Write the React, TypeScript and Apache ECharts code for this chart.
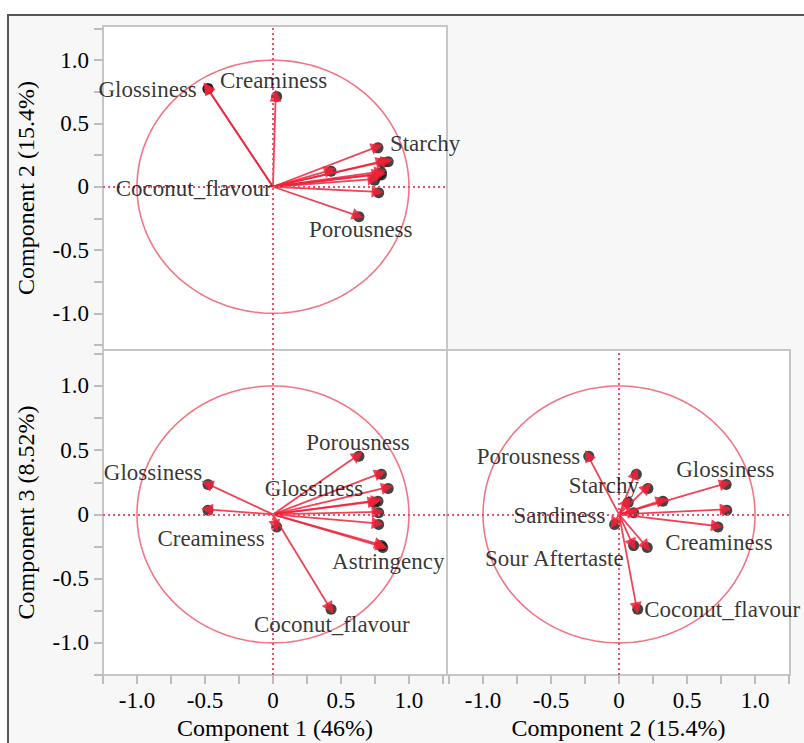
import React, { useEffect, useRef } from 'react';
import * as echarts from 'echarts';

// Loadings of the 13 sensory attributes on the first three components
const variables = [
  'Porousness', 'Attribute 2', 'Attribute 3', 'Glossiness', 'Starchy', 'Attribute 6',
  'Attribute 7', 'Attribute 8', 'Sandiness', 'Creaminess', 'Sour Aftertaste', 'Astringency', 'Coconut_flavour',
];
const comp1 = [0.625, 0.79, 0.84, -0.485, 0.765, 0.74, -0.485, 0.77, 0.77, 0.02, 0.79, 0.8, 0.42];
const comp2 = [-0.23, 0.12, 0.205, 0.78, 0.315, 0.06, 0.785, 0.1, -0.04, 0.72, 0.1, 0.2, 0.13];
const comp3 = [0.46, 0.32, 0.21, 0.24, 0.11, 0.1, 0.04, 0.02, -0.07, -0.09, -0.235, -0.25, -0.73];

const tickValues = [-1.25, -1, -0.75, -0.5, -0.25, 0, 0.25, 0.5, 0.75, 1, 1.25];
const labelValues = [-1, -0.5, 0, 0.5, 1];

const title1 = 'Component 1 (46%)';
const title2 = 'Component 2 (15.4%)';
const title3 = 'Component 3 (8.52%)';

// label text, x, y, alignment (as placed in the original figure)
const labels12: [string, number, number, string][] = [
  ['Glossiness', -0.56, 0.77, 'right'],
  ['Creaminess', -0.39, 0.84, 'left'],
  ['Starchy', 0.86, 0.345, 'left'],
  ['Coconut_flavour', -0.01, -0.01, 'right'],
  ['Porousness', 0.265, -0.335, 'left'],
];
const labels13: [string, number, number, string][] = [
  ['Porousness', 0.245, 0.56, 'left'],
  ['Glossiness', -0.52, 0.33, 'right'],
  ['Glossiness', -0.06, 0.2, 'left'],
  ['Creaminess', -0.85, -0.19, 'left'],
  ['Astringency', 0.435, -0.37, 'left'],
  ['Coconut_flavour', -0.14, -0.86, 'left'],
];
const labels23: [string, number, number, string][] = [
  ['Porousness', -0.285, 0.45, 'right'],
  ['Glossiness', 0.42, 0.35, 'left'],
  ['Starchy', -0.37, 0.225, 'left'],
  ['Sandiness', -0.1, -0.01, 'right'],
  ['Creaminess', 0.34, -0.22, 'left'],
  ['Sour Aftertaste', -0.985, -0.34, 'left'],
  ['Coconut_flavour', 0.185, -0.74, 'left'],
];

const FONT = '"Liberation Serif", "Times New Roman", serif';

export default function App() {
  const ref = useRef<HTMLDivElement>(null);
  useEffect(() => {
    document.body.style.margin = '0';
    const chart = echarts.init(ref.current!, null, { renderer: 'svg' });

    const circle: number[][] = [];
    for (let i = 0; i <= 180; i++) {
      const a = (i / 180) * Math.PI * 2;
      circle.push([Math.cos(a), Math.sin(a)]);
    }

    const panels = [
      { xs: comp1, ys: comp2, labels: labels12 },
      { xs: comp1, ys: comp3, labels: labels13 },
      { xs: comp2, ys: comp3, labels: labels23 },
    ];

    const fmt = (v: number) => (v === 0 ? '0' : v.toFixed(1));

    const mkAxis = (gridIndex: number, min: number, max: number, showLabels: boolean, name: string, nameGap: number) => ({
      type: 'value',
      gridIndex,
      min,
      max,
      name,
      nameLocation: 'middle',
      nameGap,
      nameTextStyle: { fontFamily: FONT, fontSize: 24, color: '#000' },
      axisLine: { show: false, onZero: false },
      axisTick: {
        show: showLabels,
        length: 9,
        customValues: tickValues,
        lineStyle: { color: '#bdbdbd', width: 2 },
      },
      axisLabel: {
        show: showLabels,
        customValues: labelValues,
        formatter: fmt,
        margin: 14,
        fontFamily: FONT,
        fontSize: 23,
        color: '#000',
      },
      splitLine: { show: false },
    });

    const series: any[] = [];
    panels.forEach((p, i) => {
      const pts = p.xs.map((x, k) => ({ name: variables[k], value: [x, p.ys[k]] }));
      series.push({
        type: 'line',
        xAxisIndex: i,
        yAxisIndex: i,
        data: circle,
        showSymbol: false,
        symbol: 'none',
        silent: true,
        lineStyle: { color: '#f27685', width: 1.6 },
        z: 1,
        markLine: {
          silent: true,
          symbol: 'none',
          label: { show: false },
          lineStyle: { color: '#f0506a', type: [2, 3], width: 2 },
          data: [{ xAxis: 0 }, { yAxis: 0 }],
        },
      });
      series.push({
        type: 'scatter',
        xAxisIndex: i,
        yAxisIndex: i,
        data: pts,
        symbol: 'circle',
        symbolSize: 11,
        symbolOffset: [1, 1],
        itemStyle: { color: '#151515' },
        silent: true,
        z: 3,
      });
      series.push({
        type: 'lines',
        coordinateSystem: 'cartesian2d',
        xAxisIndex: i,
        yAxisIndex: i,
        data: pts.map((d) => ({ coords: [[0, 0], d.value] })),
        symbol: ['none', 'triangle'],
        symbolSize: [0, 12],
        lineStyle: { color: '#ee2238', width: 1.8, opacity: 0.85 },
        silent: true,
        z: 4,
      });
      series.push({
        type: 'scatter',
        xAxisIndex: i,
        yAxisIndex: i,
        data: p.labels.map(([t, x, y, a]) => ({ name: t, value: [x, y], label: { align: a } })),
        symbolSize: 1,
        itemStyle: { color: 'rgba(0,0,0,0)' },
        silent: true,
        z: 5,
        label: {
          show: true,
          position: 'inside',
          formatter: '{b}',
          verticalAlign: 'middle',
          fontFamily: FONT,
          fontSize: 23,
          color: '#000',
        },
      });
    });

    const gridBase = {
      show: true,
      backgroundColor: '#ffffff',
      borderColor: '#c6c6c6',
      borderWidth: 2,
      outerBoundsMode: 'none',
      containLabel: false,
    };

    chart.setOption({
      animation: false,
      backgroundColor: '#ffffff',
      graphic: [
        {
          type: 'rect',
          z: -100,
          silent: true,
          shape: { x: 8, y: 15, width: 800, height: 740 },
          style: { fill: '#f7f7f7', stroke: '#555555', lineWidth: 2 },
        },
      ],
      grid: [
        { ...gridBase, left: 103, top: 26, width: 344, height: 324 },
        { ...gridBase, left: 103, top: 350, width: 344, height: 325 },
        { ...gridBase, left: 447, top: 350, width: 343, height: 325 },
      ],
      xAxis: [
        mkAxis(0, -1.25, 1.28, false, '', 0),
        mkAxis(1, -1.25, 1.28, true, title1, 41),
        mkAxis(2, -1.265, 1.257, true, title2, 41),
      ],
      yAxis: [
        mkAxis(0, -1.29, 1.27, true, title2, 65),
        mkAxis(1, -1.25, 1.28, true, title3, 65),
        mkAxis(2, -1.25, 1.28, false, '', 0),
      ],
      series,
    });
    return () => chart.dispose();
  }, []);
  return <div ref={ref} style={{ width: 804, height: 743 }} />;
}
